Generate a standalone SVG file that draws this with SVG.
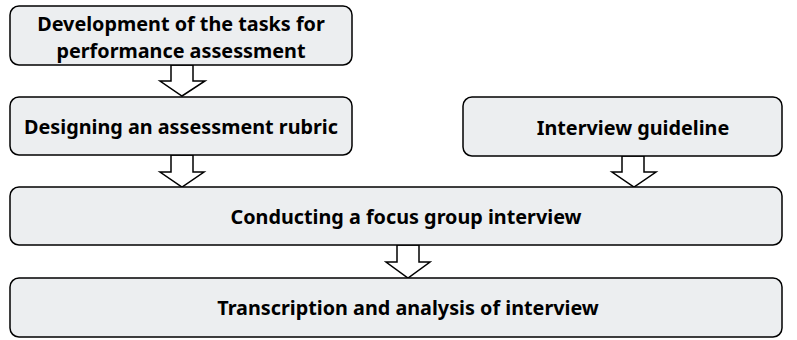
<svg xmlns="http://www.w3.org/2000/svg" width="797" height="340" viewBox="0 0 797 340">
<style>
.box{fill:#ECEEF0;stroke:#000;stroke-width:1.5}
.arr{fill:#fff;stroke:#000;stroke-width:1.5;stroke-linejoin:miter}
text{font-family:"Noto Sans","Open Sans","Liberation Sans",sans-serif;font-weight:bold;font-size:19.8px;fill:#000;text-anchor:middle}
</style>
<rect width="797" height="340" fill="#fff"/>
<g id="connectors">
<polygon class="arr" points="171,65 193,65 193,81 205,81 182,96 160,81 171,81"/>
<polygon class="arr" points="171,155 193,155 193,172 204,172 182,187 160,172 171,172"/>
<polygon class="arr" points="622,156 644,156 644,172 656,172 634,187 612,172 622,172"/>
<polygon class="arr" points="397,245 419,245 419,262 430,262 408,278 386,262 397,262"/>
</g>
<g id="node1">
<rect class="box" x="10" y="6" width="342" height="59" rx="9"/>
<text x="181" y="30.5">Development of the tasks for</text>
<text x="181" y="57.5">performance assessment</text>
</g>
<g id="node2">
<rect class="box" x="10" y="97" width="342" height="58" rx="9"/>
<text x="181" y="134">Designing an assessment rubric</text>
</g>
<g id="node3">
<rect class="box" x="463" y="97" width="319" height="59" rx="9"/>
<text x="633" y="135">Interview guideline</text>
</g>
<g id="node4">
<rect class="box" x="10" y="187" width="772" height="58" rx="9"/>
<text x="406" y="224">Conducting a focus group interview</text>
</g>
<g id="node5">
<rect class="box" x="10" y="278" width="772" height="59" rx="9"/>
<text x="408" y="315">Transcription and analysis of interview</text>
</g>
</svg>
